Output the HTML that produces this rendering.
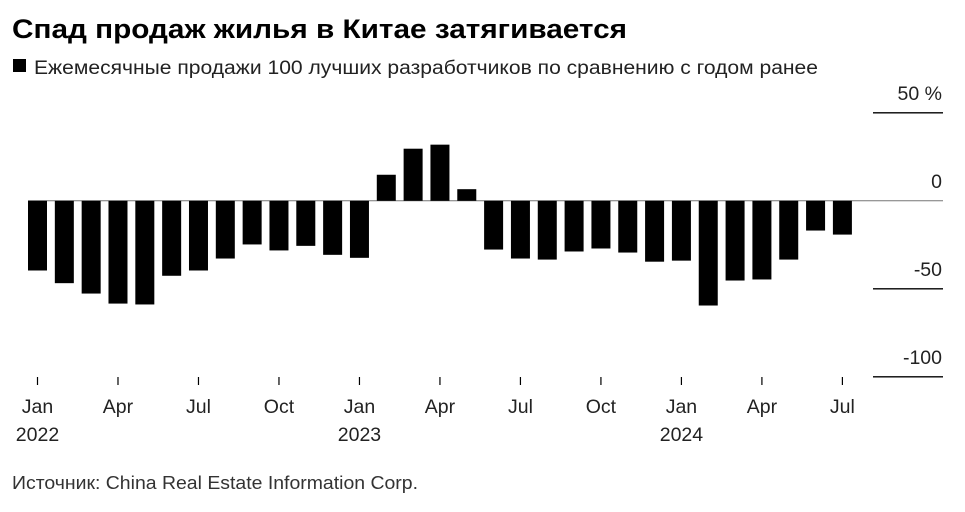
<!DOCTYPE html>
<html><head><meta charset="utf-8"><style>
body{margin:0;background:#fff;font-family:"Liberation Sans",sans-serif;}
svg text{font-family:"Liberation Sans",sans-serif;}
</style></head><body>
<svg width="965" height="507">
<text x="12" y="38" font-size="27" font-weight="bold" fill="#000" textLength="615" lengthAdjust="spacingAndGlyphs">Спад продаж жилья в Китае затягивается</text>
<rect x="13" y="59" width="13" height="13" fill="#000"/>
<text x="34" y="74" font-size="19" fill="#222" textLength="784" lengthAdjust="spacingAndGlyphs">Ежемесячные продажи 100 лучших разработчиков по сравнению с годом ранее</text>
<g id="axes"></g>
<g id="bars"></g>
<text x="12" y="489" font-size="18" fill="#333" textLength="406" lengthAdjust="spacingAndGlyphs">Источник: China Real Estate Information Corp.</text>
</svg>
<script>
const months=["Jan 2022","Feb","Mar","Apr","May","Jun","Jul","Aug","Sep","Oct","Nov","Dec","Jan 2023","Feb","Mar","Apr","May","Jun","Jul","Aug","Sep","Oct","Nov","Dec","Jan 2024","Feb","Mar","Apr","May","Jun","Jul"];
const values=[-39.6,-46.8,-52.7,-58.4,-58.9,-42.6,-39.6,-32.8,-24.8,-28.2,-25.6,-30.7,-32.4,14.8,29.6,31.9,6.6,-27.7,-32.8,-33.4,-28.8,-27.1,-29.4,-34.6,-34.0,-59.5,-45.3,-44.7,-33.4,-16.9,-19.2];
const yTicks=[50,0,-50,-100];
const yTickLabels=["50 %","0","-50","-100"];
const xTickIdx=[0,3,6,9,12,15,18,21,24,27,30];
const xTickLabels=["Jan","Apr","Jul","Oct","Jan","Apr","Jul","Oct","Jan","Apr","Jul"];
const yearLabels={0:"2022",12:"2023",24:"2024"};
const NS="http://www.w3.org/2000/svg";
const y=v=>200.8-v*1.76;
const x=i=>37.5+i*26.83;
const bw=19;
const ax=document.getElementById('axes'),bg=document.getElementById('bars');
function mk(t,a,p){const e=document.createElementNS(NS,t);for(const k in a)e.setAttribute(k,a[k]);p.appendChild(e);return e;}
yTicks.forEach((v,i)=>{
 if(v!==0){const l=mk('line',{x1:873,x2:943,y1:y(v),y2:y(v),stroke:'#000','stroke-width':1.3},ax);
 
 }
 const t=mk('text',{x:942,y:y(v)-13,'text-anchor':'end','font-size':19.5,fill:'#222'},ax);
 t.textContent=yTickLabels[i];
 
 
});
values.forEach((v,i)=>{
 const r=mk('rect',{x:x(i)-bw/2,width:bw,y:Math.min(y(v),y(0)),height:Math.abs(y(v)-y(0)),fill:'#000'},bg);
 
 
});
const z=mk('line',{x1:28,x2:943,y1:y(0),y2:y(0),stroke:'#777','stroke-width':1},ax);


xTickIdx.forEach((idx,k)=>{
 const l=mk('line',{x1:x(idx),x2:x(idx),y1:377,y2:385,stroke:'#000','stroke-width':1.2},ax);
 
 
 const t=mk('text',{x:x(idx),y:413,'text-anchor':'middle','font-size':19.5,fill:'#222'},ax);
 t.textContent=xTickLabels[k];
 
 
 if(yearLabels[idx]){const yt=mk('text',{x:x(idx),y:441,'text-anchor':'middle','font-size':19.5,fill:'#222'},ax);
 yt.textContent=yearLabels[idx];
 
 }
});
</script>
</body></html>
